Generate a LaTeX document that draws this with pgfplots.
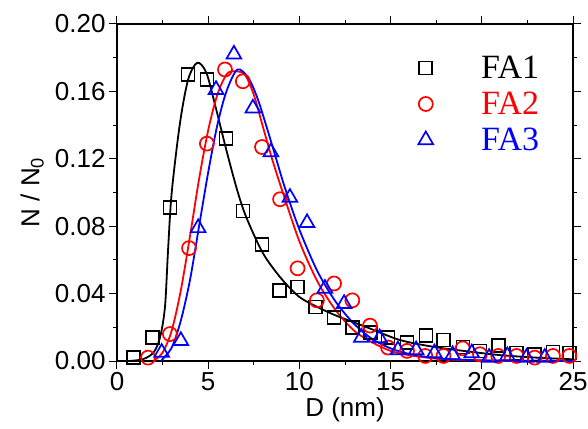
\documentclass[border=0pt]{standalone}
\usepackage{fontspec}
\setmainfont{Liberation Sans}
\newfontfamily\legfont{Liberation Serif}
\usepackage{pgfplots}
\pgfplotsset{compat=1.18}
\begin{document}
\begin{tikzpicture}[x=1pt,y=1pt]
\begin{axis}[
  scale only axis,
  width=456pt, height=337pt,
  xmin=0, xmax=25, ymin=0, ymax=0.2,
  xtick={0,5,10,15,20,25},
  ytick={0,0.04,0.08,0.12,0.16,0.2},
  minor x tick num=1, minor y tick num=1,
  tick align=outside,
  xtick pos=both, ytick pos=both,
  xticklabel pos=bottom, yticklabel pos=left,
  major tick length=8pt, minor tick length=4pt,
  every tick/.style={black, line width=1pt},
  axis line style={line width=1.2pt},
  /pgf/number format/assume math mode=true,
  yticklabel style={/pgf/number format/.cd, fixed, fixed zerofill, precision=2},
  ticklabel style={font=\fontsize{26}{29}\selectfont},
  xlabel={D (nm)},
  ylabel={N / N\textsubscript{0}},
  label style={font=\fontsize{26}{30}\selectfont},
  xlabel style={at={(axis description cs:0.5,-0.145)}, anchor=center},
  ylabel style={at={(axis description cs:-0.186,0.5)}, anchor=center, rotate=0},
  legend style={at={(axis description cs:0.654,0.91)}, anchor=north west, draw=none, fill=none,
    font=\legfont\fontsize{34}{38}\selectfont, row sep=12pt,
    nodes={inner sep=0pt, anchor=base west},
    /tikz/every odd column/.append style={column sep=48pt}},
  legend cell align=left,
  legend image code/.code={\draw[#1] plot[only marks] coordinates {(0pt,11pt)};},
]
\addplot[black, line width=1.6pt, only marks, mark=square, mark size=6.5pt, mark options={line width=1.7pt}] coordinates {
(0.9,0.002) (1.95,0.014) (2.9,0.091) (3.9,0.170) (4.93,0.167) (5.98,0.132) (6.9,0.089) (7.95,0.069) (8.9,0.042) (9.9,0.044) (10.9,0.032) (11.9,0.026) (12.9,0.020) (13.9,0.017) (14.86,0.014) (15.9,0.011) (16.94,0.015) (17.9,0.0125) (18.97,0.0083) (19.9,0.006) (20.9,0.009) (21.9,0.0048) (22.9,0.004) (23.9,0.0053) (24.8,0.0048)
};
\addlegendentry{FA1}
\addplot[red, line width=1.6pt, only marks, mark=o, mark size=7pt, mark options={line width=1.7pt}] coordinates {
(1.7,0.002) (2.9,0.016) (3.95,0.067) (4.93,0.129) (5.92,0.173) (6.9,0.166) (7.95,0.127) (8.94,0.096) (9.9,0.055) (10.96,0.036) (11.9,0.046) (12.9,0.036) (13.87,0.021) (14.86,0.008) (15.9,0.006) (16.9,0.003) (17.9,0.003) (18.95,0.0075) (19.9,0.004) (20.9,0.003) (21.9,0.003) (22.9,0.002) (23.9,0.003) (24.8,0.003)
};
\addlegendentry{\textcolor{red}{FA2}}
\addplot[blue, line width=1.6pt, only marks, mark=triangle, mark size=8.5pt, mark options={line width=1.7pt}] coordinates {
(2.45,0.005) (3.5,0.012) (4.45,0.079) (5.43,0.161) (6.41,0.182) (7.45,0.150) (8.44,0.124) (9.48,0.097) (10.42,0.082) (11.4,0.043) (12.45,0.034) (13.4,0.014) (14.4,0.0136) (15.4,0.0065) (16.4,0.0065) (17.4,0.0047) (18.4,0.0036) (19.45,0.0047) (20.4,0.002) (21.4,0.003) (22.45,0.002) (23.45,0.002)
};
\addlegendentry{\textcolor{blue}{FA3}}
% fitted curves
\addplot[black, line width=1.8pt, smooth, forget plot] coordinates {
(0.6,0) (1.4,0.001) (2.0,0.005) (2.36,0.014) (2.63,0.032) (2.8,0.066) (3.0,0.100) (3.45,0.141) (3.9,0.167) (4.4,0.177) (4.9,0.171) (5.4,0.151) (6.0,0.125) (6.6,0.101) (7.1,0.085) (8.0,0.064) (9.0,0.049) (10,0.038) (11,0.032) (12,0.027) (13.7,0.020) (15.5,0.0125) (17.3,0.0085) (19,0.006) (21,0.0035) (23,0.002) (25,0.001)
};
\addplot[red, line width=1.8pt, smooth, forget plot] coordinates {
(2.0,0) (2.5,0.005) (3.0,0.018) (3.5,0.042) (4.0,0.074) (4.5,0.108) (5.0,0.137) (5.5,0.158) (6.0,0.170) (6.4,0.172) (7.0,0.170) (7.5,0.158) (8.0,0.139) (8.5,0.120) (9.0,0.103) (10,0.071) (11,0.047) (12,0.030) (13,0.018) (14,0.011) (15,0.006) (16,0.0035) (17,0.002) (18,0.001) (20,0.0003) (25,0)
};
\addplot[blue, line width=1.8pt, smooth, forget plot] coordinates {
(2.4,0) (3.0,0.008) (3.5,0.024) (4.0,0.048) (4.5,0.080) (5.0,0.112) (5.5,0.140) (6.0,0.160) (6.6,0.173) (7.2,0.168) (7.7,0.156) (8.2,0.139) (8.7,0.121) (9.2,0.103) (10,0.078) (11,0.053) (12,0.035) (13,0.022) (14,0.013) (15,0.0075) (16,0.0042) (17,0.0024) (18,0.0013) (20,0.0004) (25,0)
};
\coordinate (sw) at (rel axis cs:0,0);
\coordinate (ne) at (rel axis cs:1,1);
\end{axis}
\pgfresetboundingbox
\path[use as bounding box] ([shift={(-117pt,-67pt)}]sw) rectangle ([shift={(15pt,24pt)}]ne);
\end{tikzpicture}
\end{document}
